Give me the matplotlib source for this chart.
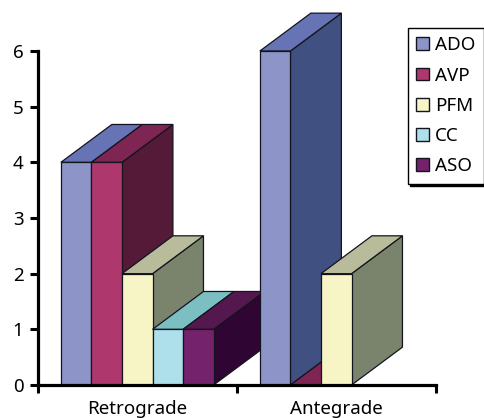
import matplotlib
matplotlib.use("Agg")
import matplotlib.pyplot as plt
from matplotlib.patches import Patch, Rectangle
from matplotlib.legend_handler import HandlerPatch

groups = ["Retrograde", "Antegrade"]
series = ["ADO", "AVP", "PFM", "CC", "ASO"]
values = {
    "ADO": [4, 6],
    "AVP": [4, 0],
    "PFM": [2, 2],
    "CC": [1, 0],
    "ASO": [1, 0],
}
front = {"ADO": "#8C94C8", "AVP": "#AE386D", "PFM": "#F7F5C5", "CC": "#AEE0EC", "ASO": "#74226B"}
top = {"ADO": "#6673B5", "AVP": "#7F2554", "PFM": "#B8BC9A", "CC": "#7BBFC2", "ASO": "#54184F"}
side = {"ADO": "#405080", "AVP": "#551A38", "PFM": "#7A836C", "CC": "#55808A", "ASO": "#2E0533"}
yticks = [0, 1, 2, 3, 4, 5, 6]

W, H = 484, 418
plt.rcParams["font.family"] = ["Noto Sans", "DejaVu Sans"]
fig = plt.figure(figsize=(W / 100, H / 100), dpi=100)
L, R, B, T = 38, 436, 385, 51
ax = fig.add_axes([L / W, 1 - B / H, (R - L) / W, (B - T) / H])
ax.set_xlim(-0.5, 1.5)
ax.set_ylim(0, 6)

bw = 0.1535
start = 0.115
dx = 0.256
dy = 0.68
edge = "#14141f"
lw = 0.9
z = 3
for g in range(len(groups)):
    for i, name in enumerate(series):
        v = values[name][g]
        if v == 0 and name != "AVP":
            continue
        x0 = g - 0.5 + start + i * bw
        x1 = x0 + bw
        ax.fill([x1, x1 + dx, x1 + dx, x1], [0, dy, v + dy, v], fc=side[name], ec=edge, lw=lw,
                zorder=z, clip_on=False)
        ax.fill([x0, x1, x1 + dx, x0 + dx], [v, v, v + dy, v + dy], fc=top[name], ec=edge, lw=lw,
                zorder=z, clip_on=False)
        ax.bar(x0, v, width=bw, align="edge", color=front[name], edgecolor=edge, linewidth=lw,
               zorder=z, clip_on=False)
        z += 1

for s in ("top", "right"):
    ax.spines[s].set_visible(False)
for s in ("left", "bottom"):
    ax.spines[s].set_linewidth(2.3)
    ax.spines[s].set_zorder(50)

ax.set_yticks(yticks)
ax.tick_params(axis="y", length=5.5, width=2.2, labelsize=13.5, pad=5)
ax.set_xticks([-0.5, 0.5, 1.5])
ax.set_xticklabels([])
ax.tick_params(axis="x", which="major", length=5.5, width=2.2)
ax.set_xticks([0, 1], minor=True)
ax.set_xticklabels(groups, minor=True, fontsize=13.5)
ax.tick_params(axis="x", which="minor", length=0, pad=10.5)


def square(legend, orig_handle, xdescent, ydescent, width, height, fontsize):
    size = 9.2
    return Rectangle((width - size - xdescent, (height - size) / 2 - ydescent), size, size)


handles = [Patch(fc=front[n], ec=edge, lw=1.0, label=n) for n in series]
leg = fig.legend(handles=handles, loc="upper left", bbox_to_anchor=(407.5 / W, 1 - 28 / H),
                 bbox_transform=fig.transFigure, borderaxespad=0, frameon=True, fancybox=False,
                 shadow={"color": "black", "alpha": 1.0}, edgecolor="black", framealpha=1,
                 fontsize=13.5, handlelength=0.68, handleheight=0.72, handletextpad=0.32,
                 labelspacing=0.65, borderpad=0.45,
                 handler_map={Patch: HandlerPatch(patch_func=square)})
leg.get_frame().set_linewidth(1.0)

fig.savefig("out.png", dpi=100)
